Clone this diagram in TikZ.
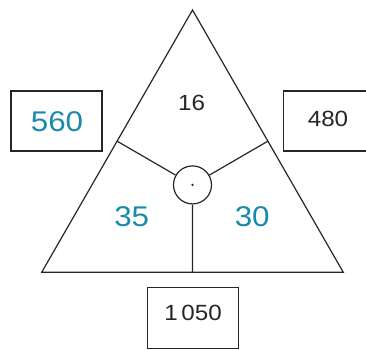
\documentclass[tikz,border=0pt]{standalone}
\usepackage{fontspec}
\usetikzlibrary{calc}
\setmainfont{Liberation Sans}[FakeStretch=1.1]
\definecolor{teal1}{HTML}{1A8AAA}
\definecolor{ink}{HTML}{262626}
\begin{document}
\begin{tikzpicture}[x=1pt,y=-1pt,
  ln/.style={draw=ink,line width=1.2pt},
  box/.style={draw=ink,line width=1.2pt,inner sep=0pt},
  small/.style={font=\fontsize{22}{24}\selectfont,text=ink,inner sep=0pt},
  big/.style={font=\fontsize{28.5}{32}\selectfont,text=teal1,inner sep=0pt}]
\useasboundingbox (0,0) rectangle (366,349);
\clip (0,0) rectangle (366,349);
\coordinate (A) at (192.5,10);
\coordinate (B) at (41.7,272.3);
\coordinate (C) at (343.3,272.3);
\coordinate (mAB) at ($(A)!0.5!(B)$);
\coordinate (mAC) at ($(A)!0.5!(C)$);
\coordinate (mBC) at ($(B)!0.5!(C)$);
\draw[ln,line join=miter] (A) -- (B) -- (C) -- cycle;
\node[draw=ink,line width=1.2pt,circle,minimum size=38pt,inner sep=0pt] (o) at (192.5,184.9) {};
\fill[ink] (o.center) circle (1.3pt);
\draw[ln] (o) -- (mAB);
\draw[ln] (o) -- (mAC);
\draw[ln] (o) -- (mBC);
\node[small] (t16) at (191.7,102.5) {16};
\node[big] (t35) at (131.7,216.7) {35};
\node[big] (t30) at (252.2,216.7) {30};
\node[box,minimum width=91pt,minimum height=60pt] (bl) at (56.5,121) {};
\node[big] (t560) at (57,121.5) {560};
\node[box,minimum width=88pt,minimum height=60pt] (br) at (327.5,121) {};
\node[small] (t480) at (328,119.2) {480};
\node[box,minimum width=91pt,minimum height=61pt] (bb) at (192.8,317.8) {};
\node[small] (t1050) at (193,313) {1\,050};
\end{tikzpicture}
\end{document}
